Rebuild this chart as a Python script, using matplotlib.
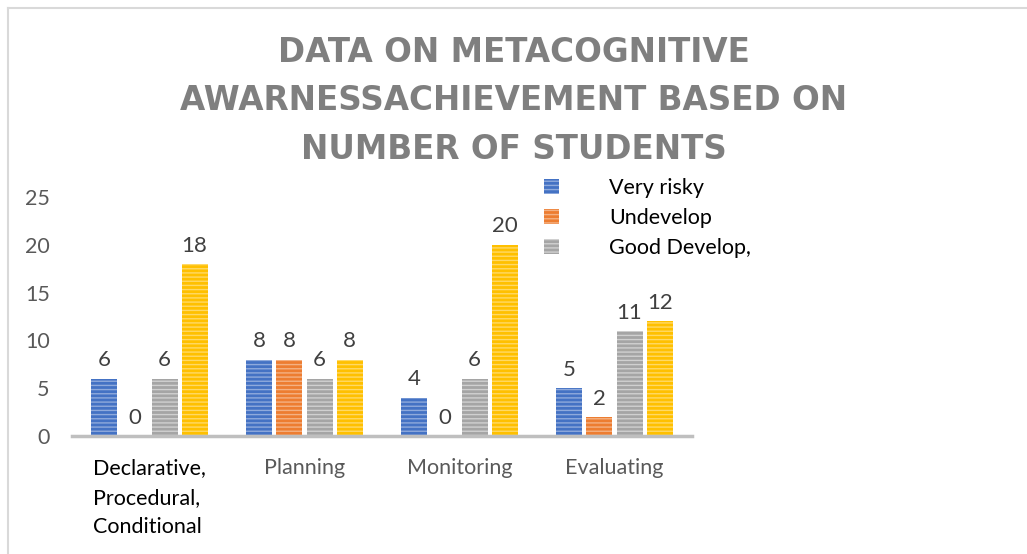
import numpy as np
import matplotlib
matplotlib.use("Agg")
import matplotlib.pyplot as plt
from matplotlib.lines import Line2D

# Данные
categories = ["Declarative,\nProcedural,\nConditional", "Planning", "Monitoring", "Evaluating"]
series_names = ["Very risky", "Undevelop", "Good Develop,", "Very Good"]
very_risky = [6, 8, 4, 5]
undevelop = [0, 8, 0, 2]
good_develop = [6, 6, 6, 11]
very_good = [18, 8, 20, 12]

colors = ["#4472C4", "#ED7D31", "#A5A5A5", "#FFC000"]
stripes = ["#8FAADC", "#F4B183", "#D0D0D0", "#FFD966"]

plt.rcParams['font.family'] = ['Lato', 'DejaVu Sans']
plt.rcParams['hatch.linewidth'] = 1.0

fig = plt.figure(figsize=(10.27, 5.54), dpi=100)
ax = fig.add_axes([0.0701, 0.213, 0.6037, 0.4314])

x = np.arange(len(categories))
step = 0.194
width = 0.168
all_series = [very_risky, undevelop, good_develop, very_good]

handles = []
for i, vals in enumerate(all_series):
    pos = x + (i - 1.5) * step
    bars = ax.bar(pos, vals, width, color=colors[i], edgecolor=stripes[i],
                  linewidth=0, hatch='----', label=series_names[i])
    for b, v in zip(bars, vals):
        ax.annotate(str(v), (b.get_x() + b.get_width() / 2, v),
                    textcoords="offset points", xytext=(0, 6),
                    ha='center', va='bottom', fontsize=16, color='#404040')
    handles.append(bars)

ax.set_xlim(-0.5, 3.5)
ax.set_ylim(0, 25)
ax.set_yticks([0, 5, 10, 15, 20, 25])
ax.tick_params(axis='y', length=0, pad=16, labelsize=15.5, labelcolor='#595959')
ax.tick_params(axis='x', length=0, pad=16, labelsize=15.5, labelcolor='#595959')
ax.set_xticks(x)
ax.set_xticklabels(categories)
labs = ax.get_xticklabels()
labs[0].set_color('black')
labs[0].set_multialignment('left')
labs[0].set_linespacing(1.6)

for s in ['top', 'right', 'left']:
    ax.spines[s].set_visible(False)
ax.spines['bottom'].set_color('#BFBFBF')
ax.spines['bottom'].set_linewidth(2.5)

# Легенда (только три серии, как в исходнике)
fig.legend(handles[:3], series_names[:3], loc='upper left',
           bbox_to_anchor=(525 / 1027, 1 - 159 / 554), frameon=False,
           fontsize=15.5, handlelength=0.7, handleheight=0.7,
           handletextpad=2.3, labelspacing=0.45)

# Заголовок
fig.text(0.5, 1 - 101 / 554,
         "DATA ON METACOGNITIVE\nAWARNESSACHIEVEMENT BASED ON\nNUMBER OF STUDENTS",
         ha='center', va='center', fontsize=23.5, fontweight='bold',
         color='#7F7F7F', linespacing=1.58, family=['DejaVu Sans'])

# Рамка
fig.add_artist(Line2D([8 / 1027, 8 / 1027], [0, 1 - 8 / 554], transform=fig.transFigure,
                      color='#D9D9D9', linewidth=1.5))
fig.add_artist(Line2D([8 / 1027, 1], [1 - 8 / 554, 1 - 8 / 554], transform=fig.transFigure,
                      color='#D9D9D9', linewidth=1.5))

fig.savefig("out.png", dpi=100)
